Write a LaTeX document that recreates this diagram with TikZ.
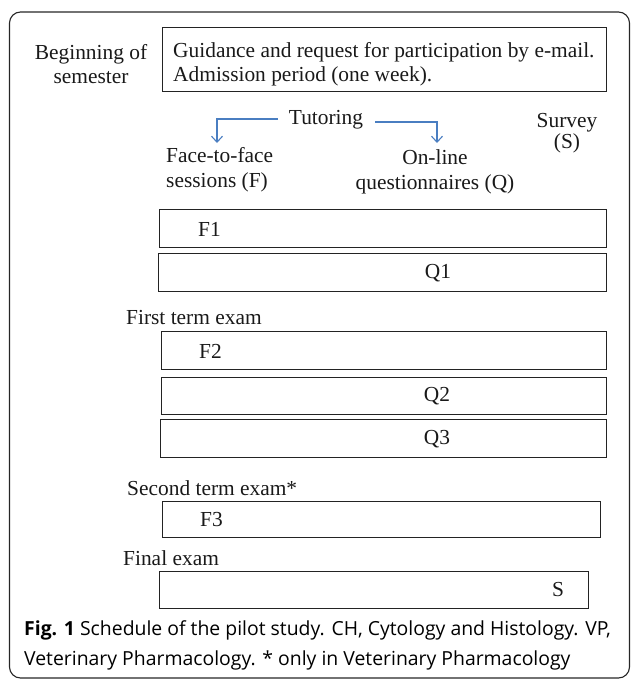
\documentclass[tikz,border=0pt]{standalone}
\usepackage{fontspec}
\setmainfont{Liberation Serif}
\newfontfamily\capfont{Open Sans}
\usetikzlibrary{arrows.meta}
\definecolor{tutblue}{RGB}{74,126,193}
\definecolor{boxline}{RGB}{35,35,35}
\tikzset{
  box/.style={draw=boxline, line width=1.3pt, minimum height=#1, inner sep=0pt, anchor=north west},
  lbl/.style={font=\fontsize{21.4}{24}\selectfont, inner sep=0pt, text=black!90},
  tutline/.style={draw=tutblue, line width=1.1pt, -{Straight Barb[length=6pt,width=11pt,line width=1.1pt]}},
}
\begin{document}
\begin{tikzpicture}[x=1pt,y=-1pt]
\useasboundingbox (0,0) rectangle (630,680);
% outer frame
\draw[line width=1.1pt, rounded corners=11pt, draw=black!85] (9.5,12) rectangle (629.5,678);

% top box
\node[box=64pt, minimum width=444pt] (top) at (162,27) {};
\node[lbl, anchor=west, align=left, font=\fontsize{21.4}{24.5}\selectfont] (toptext) at (173,64)
  {Guidance and request for participation by e-mail.\\Admission period (one week).};
\node[lbl, align=center, font=\fontsize{21.4}{24}\selectfont] (begin) at (91,64) {Beginning of\\semester};

% tutoring
\node[lbl] (tut) at (326,120) {Tutoring};
\coordinate (tl) at (278,119);
\coordinate (tr) at (375,122);
\node[lbl, anchor=west, align=left, font=\fontsize{21.4}{25}\selectfont] (f2f) at (166,170) {Face-to-face\\sessions (F)};
\node[lbl, align=center, font=\fontsize{21.4}{25}\selectfont] (online) at (435,172) {On-line\\questionnaires (Q)};
\node[lbl, align=center, font=\fontsize{21.4}{21}\selectfont] (survey) at (567,133) {Survey\\(S)};
\coordinate (al) at (217,143);
\coordinate (ar) at (437,143);
\draw[tutline] (tl) -| (al);
\draw[tutline] (tr) -| (ar);

% F1, Q1
\node[box=38pt, minimum width=447pt] (f1box) at (159,209) {};
\node[lbl, anchor=west] (f1) at (198,229) {F1};
\node[box=38pt, minimum width=448pt] (q1box) at (158,253) {};
\node[lbl] (q1) at (438,273) {Q1};

% first term
\node[lbl, anchor=west] (ft) at (126,318) {First term exam};
\node[box=38pt, minimum width=445pt] (f2box) at (161,331) {};
\node[lbl, anchor=west] (f2) at (199,351) {F2};
\node[box=37pt, minimum width=445pt] (q2box) at (161,377) {};
\node[lbl] (q2) at (437,396) {Q2};
\node[box=38pt, minimum width=446pt] (q3box) at (160,419) {};
\node[lbl] (q3) at (437,439) {Q3};

% second term
\node[lbl, anchor=west] (st) at (127,488) {Second term exam*};
\node[box=36pt, minimum width=438pt] (f3box) at (162,501) {};
\node[lbl, anchor=west] (f3) at (200,520) {F3};

% final
\node[lbl, anchor=west] (fe) at (123,558) {Final exam};
\node[box=37pt, minimum width=429pt] (sbox) at (159,571) {};
\node[lbl, anchor=west] (s) at (552,590) {S};

% caption
\node[anchor=north west, align=left, inner sep=0pt, font=\capfont\fontsize{19.4}{30}\selectfont] (cap) at (24,620)
  {\textbf{Fig. 1} Schedule of the pilot study. CH, Cytology and Histology. VP,\\Veterinary Pharmacology. * only in Veterinary Pharmacology};
\end{tikzpicture}
\end{document}
